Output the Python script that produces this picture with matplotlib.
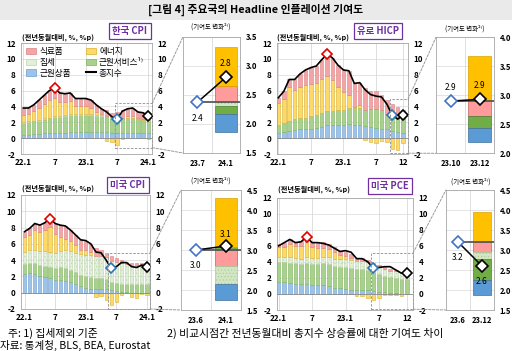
import matplotlib
matplotlib.use('Agg')
import matplotlib.pyplot as plt
from matplotlib.patches import Rectangle, ConnectionPatch, Patch
from matplotlib.lines import Line2D
import numpy as np

plt.rcParams['font.family'] = ['Noto Sans CJK KR', 'DejaVu Sans']
plt.rcParams['hatch.linewidth'] = 0.4

# ---------------- data ----------------
# Korea CPI 22.1 - 24.1
kr_total    = [3.8,3.8,4.2,4.8,5.4,6.0,6.3,5.7,5.6,5.7,5.0,5.0,5.0,4.8,4.2,3.7,3.3,2.7,2.4,3.4,3.7,3.8,3.3,3.2,2.8]
kr_goods    = [0.4,0.4,0.5,0.5,0.6,0.6,0.7,0.7,0.7,0.8,0.8,0.8,0.8,0.8,0.8,0.8,0.8,0.7,0.7,0.7,0.7,0.7,0.7,0.6,0.6]
kr_services = [1.5,1.6,1.6,1.7,1.8,1.9,2.0,2.0,2.1,2.1,2.1,2.1,2.1,2.1,2.0,2.0,2.0,1.9,1.8,1.8,1.8,1.8,1.7,1.7,1.6]
kr_rent     = [0.1,0.1,0.1,0.1,0.1,0.1,0.1,0.1,0.1,0.1,0.1,0.1,0.1,0.1,0.1,0.1,0.05,0.05,0.05,0.05,0.05,0.05,0.05,0.05,0.05]
kr_energy   = [0.9,0.9,1.2,1.5,1.8,2.2,2.3,1.8,1.6,1.7,1.1,1.0,1.0,0.8,0.4,0.1,-0.3,-0.5,-0.9,-0.1,0.3,0.3,0.1,0.1,-0.1]
kr_food     = [0.9,0.8,0.8,1.0,1.1,1.2,1.2,1.1,1.1,1.0,0.9,1.0,1.0,1.0,0.9,0.7,0.75,0.55,0.75,0.95,0.85,0.95,0.75,0.75,0.65]
kr_ticklabels = ['22.1','7','23.1','7','24.1']

# Euro HICP 22.1 - 23.12
eu_total    = [5.1,5.9,7.4,7.4,8.1,8.6,8.9,9.1,9.9,10.6,10.1,9.2,8.6,8.5,6.9,7.0,6.1,5.5,5.3,5.2,4.3,2.9,2.4,2.9]
eu_goods    = [0.6,0.8,0.9,1.0,1.1,1.1,1.2,1.3,1.4,1.6,1.6,1.7,1.7,1.8,1.7,1.6,1.5,1.4,1.3,1.2,1.1,0.9,0.8,0.7]
eu_services = [1.0,1.1,1.2,1.4,1.5,1.4,1.6,1.6,1.8,1.8,1.8,1.9,1.9,2.0,2.1,2.2,2.1,2.3,2.4,2.3,2.0,1.9,1.7,1.7]
eu_rent     = [0.0]*24
eu_energy   = [2.8,3.1,4.3,3.7,3.9,4.2,4.0,4.0,4.2,4.5,3.9,2.8,2.2,1.7,0.1,0.4,-0.2,-0.5,-0.6,-0.3,-0.5,-1.4,-1.5,-0.6]
eu_food     = [0.7,0.9,1.0,1.3,1.6,1.9,2.1,2.2,2.5,2.7,2.8,2.8,2.8,3.0,3.0,2.8,2.7,2.3,2.2,2.0,1.7,1.5,1.4,1.1]
eu_ticklabels = ['22.1','7','23.1','7','12']

# US CPI 22.1 - 24.1
us_total    = [7.5,7.9,8.5,8.3,8.6,9.1,8.5,8.3,8.2,7.7,7.1,6.5,6.4,6.0,5.0,4.9,4.0,3.0,3.2,3.7,3.7,3.2,3.1,3.4,3.1]
us_goods    = [2.3,2.4,2.3,2.1,1.9,1.8,1.6,1.6,1.5,1.3,1.1,0.8,0.6,0.5,0.5,0.5,0.5,0.3,0.2,0.1,0.05,0.0,-0.05,0.0,-0.05]
us_services = [1.2,1.2,1.3,1.3,1.4,1.4,1.4,1.5,1.5,1.5,1.4,1.4,1.4,1.4,1.3,1.3,1.2,1.0,1.0,1.0,1.05,1.05,1.1,1.1,1.1]
us_rent     = [1.5,1.6,1.65,1.7,1.8,1.85,1.9,2.0,2.2,2.3,2.4,2.5,2.6,2.7,2.75,2.75,2.7,2.6,2.6,2.5,2.4,2.35,2.3,2.25,2.1]
us_energy   = [1.9,1.9,2.5,2.3,2.6,3.0,2.3,1.7,1.4,1.3,1.0,0.5,0.6,0.4,-0.5,-0.4,-0.9,-1.5,-1.1,-0.3,-0.05,-0.5,-0.55,-0.2,-0.25]
us_food     = [0.6,0.8,0.75,0.9,0.9,1.05,1.3,1.5,1.6,1.3,1.2,1.3,1.2,1.0,0.95,0.75,0.5,0.6,0.5,0.4,0.3,0.3,0.3,0.25,0.2]
us_ticklabels = ['22.1','7','23.1','7','24.1']

# US PCE 22.1 - 23.12
pce_total    = [6.0,6.4,6.8,6.4,6.5,7.1,6.4,6.4,6.3,6.1,5.7,5.3,5.4,5.2,4.4,4.4,4.0,3.2,3.3,3.4,3.4,3.0,2.6,2.6]
pce_goods    = [1.5,1.5,1.4,1.3,1.2,1.2,1.1,1.1,1.1,1.0,0.8,0.7,0.6,0.5,0.5,0.5,0.5,0.4,0.3,0.2,0.1,0.1,0.0,0.05]
pce_services = [2.5,2.5,2.5,2.5,2.5,2.6,2.6,2.6,2.7,2.7,2.7,2.7,2.7,2.7,2.6,2.6,2.5,2.3,2.2,2.1,2.0,1.95,1.85,1.8]
pce_rent     = [0.6,0.6,0.65,0.7,0.7,0.75,0.8,0.8,0.85,0.9,0.9,0.95,1.0,1.0,1.0,1.0,0.95,0.9,0.9,0.85,0.8,0.8,0.75,0.73]
pce_energy   = [1.2,1.3,1.7,1.5,1.6,1.9,1.4,1.2,1.1,1.0,0.8,0.5,0.4,0.3,-0.3,-0.3,-0.5,-0.7,-0.5,-0.1,-0.1,-0.15,-0.2,0.03]
pce_food     = [0.4,0.4,0.6,0.5,0.6,0.7,0.6,0.7,0.7,0.6,0.6,0.5,0.5,0.5,0.4,0.4,0.3,0.3,0.25,0.2,0.15,0.1,0.05,0.05]
pce_ticklabels = ['22.1','7','23.1','7','12']

# contribution changes (insets): goods, services, rent, food, energy
kr_inset_labels = ['23.7','24.1']; kr_inset_start = 2.37; kr_inset_end = 2.8
kr_inset_chg = [-0.31, -0.14, -0.06, 0.28, 0.68]
eu_inset_labels = ['23.10','23.12']; eu_inset_start = 2.9; eu_inset_end = 2.93
eu_inset_chg = [-0.24, -0.21, 0.0, -0.26, 0.78]
us_inset_labels = ['23.6','24.1']; us_inset_start = 3.0; us_inset_end = 3.1
us_inset_chg = [-0.40, 0.07, -0.45, -0.40, 1.23]
pce_inset_labels = ['23.6','23.12']; pce_inset_start = 3.2; pce_inset_end = 2.6
pce_inset_chg = [-0.37, -0.53, -0.17, -0.25, 0.75]

# ---------------- style ----------------
KEYS = ['goods', 'services', 'rent', 'energy', 'food']
MAIN_FACE = {'goods': '#9DC3E6', 'services': '#A9D18E', 'rent': '#E2EFDA',
             'energy': '#FFD966', 'food': '#F4A4A4'}
MAIN_EDGE = {'goods': '#6B9FD1', 'services': '#7EB35C', 'rent': '#BDD4AC',
             'energy': '#D8B030', 'food': '#D98383'}
INS_FACE = {'goods': '#5B9BD5', 'services': '#70AD47', 'rent': '#D3E6C4',
            'energy': '#FFC000', 'food': '#FF9B9B'}
INS_EDGE = {'goods': '#41719C', 'services': '#507E32', 'rent': '#A9C994',
            'energy': '#D9A300', 'food': '#C06060'}
HATCH = {'rent': '.....'}
GRID = '#D9D9D9'
SPINE = '#A6A6A6'
PURPLE = '#7030A0'

W, H = 512, 351
fig = plt.figure(figsize=(W / 100, H / 100), dpi=100)
fig.patch.set_facecolor('white')
fig.add_artist(Rectangle((0, 1 - 20 / H), 1, 20 / H, transform=fig.transFigure,
                         facecolor='#EAEAEA', edgecolor='none', zorder=0))


def px_axes(x0, x1, ytop, ybot):
    return fig.add_axes([x0 / W, 1 - ybot / H, (x1 - x0) / W, (ybot - ytop) / H])


def fx(x):
    return x / W


def fy(y):
    return 1 - y / H


def style_frame(ax):
    for s in ax.spines.values():
        s.set_color(SPINE)
        s.set_linewidth(0.6)


def draw_main(ax, comps, total, ticklabels, xlim, peak, start, end, rect):
    n = len(total)
    x = np.arange(n)
    posb = np.zeros(n)
    negb = np.zeros(n)
    for k in KEYS:
        v = np.asarray(comps[k], float)
        p = np.where(v > 0, v, 0.0)
        q = np.where(v < 0, v, 0.0)
        mp = p > 0
        mq = q < 0
        if mp.any():
            ax.bar(x[mp], p[mp], 0.64, bottom=posb[mp], color=MAIN_FACE[k],
                   edgecolor=MAIN_EDGE[k], linewidth=0.4, hatch=HATCH.get(k), zorder=2)
        if mq.any():
            ax.bar(x[mq], q[mq], 0.64, bottom=negb[mq], color=MAIN_FACE[k],
                   edgecolor=MAIN_EDGE[k], linewidth=0.4, hatch=HATCH.get(k), zorder=2)
        posb += p
        negb += q
    ax.plot(x, total, color='black', lw=1.2, zorder=4)
    ax.plot(peak, total[peak], marker='D', ms=5.5, mfc='white', mec='#E00000', mew=1.2, zorder=5)
    ax.plot(start, total[start], marker='D', ms=5.5, mfc='white', mec='#2E75B6', mew=1.2, zorder=5)
    ax.plot(end, total[end], marker='D', ms=5.5, mfc='white', mec='black', mew=1.2, zorder=5)
    ax.set_xlim(*xlim)
    ax.set_ylim(-2, 12)
    ax.set_yticks(range(-2, 13, 2))
    ax.set_yticklabels([str(v) for v in range(-2, 13, 2)])
    tpos = [0, 6, 12, 18, n - 1]
    ax.set_xticks(tpos)
    ax.set_xticklabels(ticklabels)
    ax.tick_params(axis='both', length=0, labelsize=5.8, pad=3)
    ax.tick_params(axis='y', labelright=True, pad=4)
    for lab in ax.get_xticklabels() + ax.get_yticklabels():
        lab.set_fontweight('bold')
    for t in tpos:
        ax.axvline(t, color=GRID, lw=0.6, zorder=1)
    for yv in range(-2, 13, 2):
        ax.axhline(yv, color=GRID, lw=0.5, zorder=1)
    ax.axhline(0, color='#8C8C8C', lw=0.6, zorder=3)
    style_frame(ax)
    r = Rectangle((rect[0], rect[2]), rect[1] - rect[0], rect[3] - rect[2], fill=False,
                  ls=(0, (2.5, 1.5)), ec='#9A9A9A', lw=0.7, clip_on=False, zorder=6)
    ax.add_patch(r)


def draw_inset(ax, labels, start, end, chg, ylim, start_lab_dy, end_lab_dy):
    c = dict(zip(['goods', 'services', 'rent', 'food', 'energy'], chg))
    top = start
    for k in ['goods', 'services', 'rent', 'food', 'energy']:
        if c[k] > 0:
            ax.bar(1, c[k], 0.76, bottom=top, color=INS_FACE[k], edgecolor=INS_EDGE[k], lw=0.5,
                   hatch=HATCH.get(k), zorder=2)
            top += c[k]
    bot = start
    for k in ['energy', 'food', 'rent', 'services', 'goods']:
        if c[k] < 0:
            ax.bar(1, c[k], 0.76, bottom=bot, color=INS_FACE[k], edgecolor=INS_EDGE[k], lw=0.5,
                   hatch=HATCH.get(k), zorder=2)
            bot += c[k]
    ax.plot([0, 1.5], [start, start], color='#595959', lw=1.3, zorder=3)
    ax.plot([0, 1], [start, end], color='black', lw=1.1, zorder=4)
    ax.plot(0, start, marker='D', ms=6, mfc='white', mec='#4472C4', mew=1.2, zorder=5)
    ax.plot(1, end, marker='D', ms=6, mfc='white', mec='black', mew=1.2, zorder=5)
    ax.text(0, start + start_lab_dy, f'{start:.1f}', ha='center', va='center', fontsize=6, zorder=6)
    ax.text(1, end + end_lab_dy, f'{end:.1f}', ha='center', va='center', fontsize=6, zorder=6)
    ax.set_xlim(-0.5, 1.5)
    ax.set_ylim(*ylim)
    ticks = np.arange(ylim[0], ylim[1] + 0.01, 0.5)
    ax.set_yticks(ticks)
    ax.set_yticklabels([f'{t:.1f}' for t in ticks])
    ax.yaxis.tick_right()
    ax.set_xticks([0, 1])
    ax.set_xticklabels(labels)
    ax.tick_params(axis='both', length=0, labelsize=5.5, pad=4)
    for lab in ax.get_xticklabels() + ax.get_yticklabels():
        lab.set_fontweight('bold')
    for t in ticks:
        ax.axhline(t, color=GRID, lw=0.5, zorder=1)
    ax.axvline(0.5, color=GRID, lw=0.6, zorder=1)
    style_frame(ax)


def connect(ax, ins, rect):
    for (xa, ya), (xb, yb) in [((rect[1], rect[3]), (0, 1)), ((rect[1], rect[2]), (0, 0))]:
        cp = ConnectionPatch(xyA=(xa, ya), coordsA=ax.transData, xyB=(xb, yb), coordsB=ins.transAxes,
                             ls=(0, (2.5, 1.5)), color='#9A9A9A', lw=0.7, zorder=6)
        fig.add_artist(cp)


panels = [
    dict(main=(21, 152, 43, 154), ins=(183, 240, 36.7, 153),
         comps=dict(goods=kr_goods, services=kr_services, rent=kr_rent, energy=kr_energy, food=kr_food),
         total=kr_total, ticks=kr_ticklabels, xlim=(-0.45, 24.7), peak=6, start=18, end=24,
         rect=(17.6, 24.75, -1.2, 4.4),
         il=kr_inset_labels, ist=kr_inset_start, ien=kr_inset_end, ich=kr_inset_chg, iyl=(1.5, 3.5),
         sdy=-0.28, edy=0.24, title='한국 CPI', tpos=(130, 31), upos=(22, 37), ipos=(211, 27)),
    dict(main=(277, 408, 43, 154), ins=(436, 494, 37.3, 153.3),
         comps=dict(goods=eu_goods, services=eu_services, rent=eu_rent, energy=eu_energy, food=eu_food),
         total=eu_total, ticks=eu_ticklabels, xlim=(-0.25, 23.9), peak=9, start=21, end=23,
         rect=(20.5, 23.9, -1.9, 4.9),
         il=eu_inset_labels, ist=eu_inset_start, ien=eu_inset_end, ich=eu_inset_chg, iyl=(2.0, 4.0),
         sdy=0.24, edy=0.24, title='유로 HICP', tpos=(378, 31), upos=(277, 37), ipos=(465, 29)),
    dict(main=(21, 150, 195, 309), ins=(181, 241, 190, 310),
         comps=dict(goods=us_goods, services=us_services, rent=us_rent, energy=us_energy, food=us_food),
         total=us_total, ticks=us_ticklabels, xlim=(-0.7, 24.6), peak=5, start=17, end=24,
         rect=(16.4, 24.6, -2.0, 4.9),
         il=us_inset_labels, ist=us_inset_start, ien=us_inset_end, ich=us_inset_chg, iyl=(1.5, 4.5),
         sdy=-0.38, edy=0.3, title='미국 CPI', tpos=(128, 185), upos=(22, 188), ipos=(211, 181)),
    dict(main=(277, 413, 197.7, 310), ins=(446, 494, 190, 310),
         comps=dict(goods=pce_goods, services=pce_services, rent=pce_rent, energy=pce_energy, food=pce_food),
         total=pce_total, ticks=pce_ticklabels, xlim=(-0.3, 24.1), peak=5, start=17, end=23,
         rect=(16.6, 24.1, -1.9, 5.1),
         il=pce_inset_labels, ist=pce_inset_start, ien=pce_inset_end, ich=pce_inset_chg, iyl=(1.5, 4.5),
         sdy=-0.38, edy=-0.38, title='미국 PCE', tpos=(390, 186), upos=(278, 189), ipos=(471, 182)),
]

for p in panels:
    ax = px_axes(*p['main'])
    draw_main(ax, p['comps'], p['total'], p['ticks'], p['xlim'], p['peak'], p['start'], p['end'], p['rect'])
    ins = px_axes(*p['ins'])
    draw_inset(ins, p['il'], p['ist'], p['ien'], p['ich'], p['iyl'], p['sdy'], p['edy'])
    connect(ax, ins, p['rect'])
    fig.text(fx(p['tpos'][0]), fy(p['tpos'][1]), p['title'], ha='center', va='center', fontsize=6.8,
             fontweight='bold', color=PURPLE,
             bbox=dict(boxstyle='square,pad=0.35', fc='white', ec=PURPLE, lw=0.9))
    fig.text(fx(p['upos'][0]), fy(p['upos'][1]), '(전년동월대비, %, %p)', ha='left', va='center',
             fontsize=5.2, fontweight='bold')
    fig.text(fx(p['ipos'][0]), fy(p['ipos'][1]), '(기여도 변화²⁾)', ha='center', va='center',
             fontsize=4.6)
    if p['title'] == '한국 CPI':
        handles = [Patch(fc=MAIN_FACE['food'], ec=MAIN_EDGE['food'], lw=0.5),
                   Patch(fc=MAIN_FACE['rent'], ec=MAIN_EDGE['rent'], lw=0.5),
                   Patch(fc=MAIN_FACE['goods'], ec=MAIN_EDGE['goods'], lw=0.5),
                   Patch(fc=MAIN_FACE['energy'], ec=MAIN_EDGE['energy'], lw=0.5),
                   Patch(fc=MAIN_FACE['services'], ec=MAIN_EDGE['services'], lw=0.5),
                   Line2D([], [], color='black', lw=1.5)]
        labels = ['식료품', '집세', '근원상품', '에너지', '근원서비스¹⁾', '총지수']
        ax.legend(handles, labels, ncol=2, loc='upper left', bbox_to_anchor=(0.0, 1.01),
                  frameon=False, fontsize=6.2, handlelength=1.1, handleheight=0.7,
                  handletextpad=0.4, columnspacing=1.8, labelspacing=0.2, borderaxespad=0.2)

fig.text(0.5, fy(10), '[그림 4] 주요국의 Headline 인플레이션 기여도', ha='center', va='center',
         fontsize=7.8, fontweight='bold')
fig.text(fx(8), fy(333), '주: 1) 집세제외 기준', ha='left', va='center', fontsize=7.8)
fig.text(fx(167), fy(333), '2) 비교시점간 전년동월대비 총지수 상승률에 대한 기여도 차이', ha='left',
         va='center', fontsize=7.8)
fig.text(fx(0), fy(345), '자료: 통계청, BLS, BEA, Eurostat', ha='left', va='center', fontsize=7.6)

fig.savefig('out.png', dpi=100)
